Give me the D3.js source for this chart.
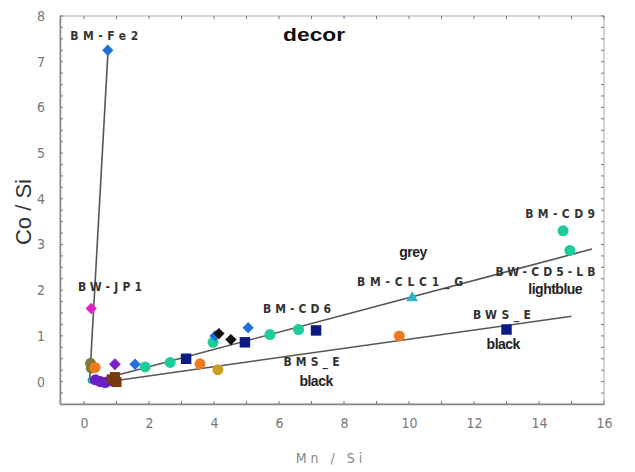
<!DOCTYPE html>
<html><head><meta charset="utf-8">
<script src="https://cdn.jsdelivr.net/npm/d3@7"></script>
<style>
body{margin:0;background:#fff;}
svg{display:block;}
</style></head>
<body><svg id="chart" width="635" height="472"></svg>
<script>
// ---- data ----
const xTicks = [0, 2, 4, 6, 8, 10, 12, 14, 16];
const yTicks = [0, 1, 2, 3, 4, 5, 6, 7, 8];

const blueDiamondX = [0.73, 1.57, 4.03, 5.05];
const blueDiamondY = [7.25, 0.38, 1.0, 1.18];
const magentaDiamondX = [0.22];
const magentaDiamondY = [1.6];
const blackDiamondX = [4.15, 4.52];
const blackDiamondY = [1.05, 0.92];
const purpleDiamondX = [0.95];
const purpleDiamondY = [0.38];
const tealCircleX = [1.88, 2.65, 3.97, 5.72, 6.6, 14.74, 14.95];
const tealCircleY = [0.32, 0.42, 0.86, 1.03, 1.14, 3.3, 2.87];
const navySquareX = [3.14, 4.95, 7.14, 13.0];
const navySquareY = [0.5, 0.86, 1.12, 1.14];
const orangeCircleX = [0.34, 3.57, 9.7];
const orangeCircleY = [0.31, 0.39, 1.0];
const goldCircleX = [4.12];
const goldCircleY = [0.26];
const oliveCircleX = [0.2, 0.22];
const oliveCircleY = [0.4, 0.3];
const purpleCircleX = [0.35, 0.5, 0.65, 0.8];
const purpleCircleY = [0.04, 0.0, -0.02, 0.02];
const brownSquareX = [0.85, 0.95, 1.0];
const brownSquareY = [0.05, 0.1, -0.01];
const tealTriangleX = [10.1];
const tealTriangleY = [1.83];
const smallTealX = [0.22];
const smallTealY = [0.03];

const steepLineX = [0.17, 0.74];
const steepLineY = [0.0, 7.26];
const upperFitX = [0.95, 15.63];
const upperFitY = [0.13, 2.9];
const lowerFitX = [0.95, 15.0];
const lowerFitY = [0.02, 1.43];

const labelTexts = ["BM-Fe2", "BW-JP1", "BM-CD6", "BMS_E", "BM-CLC1_G", "BW-CD5-LB", "BWS_E", "BM-CD9"];
const labelX = [0.62, 0.8, 6.55, 7.0, 10.03, 14.2, 12.86, 14.65];
const labelY = [7.59, 2.1, 1.62, 0.46, 2.21, 2.43, 1.49, 3.7];
const noteTexts = ["black", "grey", "lightblue", "black"];
const noteX = [7.14, 10.12, 14.5, 12.9];
const noteY = [0.02, 2.83, 2.02, 0.83];

// ---- layout ----
const svg = d3.select("#chart");
const pL = 60, pR = 604, pT = 16, pB = 404;
const x = d3.scaleLinear().domain([-0.74, 16]).range([pL, pR]);
const y = d3.scaleLinear().domain([-0.49, 8]).range([pB, pT]);

// frame
svg.append("rect").attr("x", pL).attr("y", pT).attr("width", pR-pL).attr("height", pB-pT)
  .attr("fill", "none").attr("stroke", "#aaa").attr("stroke-width", 1);

// axes
const axB = svg.append("g").attr("transform", `translate(0,${pB})`)
  .call(d3.axisBottom(x).tickValues(xTicks).tickSize(0).tickPadding(14).tickFormat(d3.format("d")));
const axL = svg.append("g").attr("transform", `translate(${pL},0)`)
  .call(d3.axisLeft(y).tickValues(yTicks).tickSize(0).tickPadding(15).tickFormat(d3.format("d")));
[axB, axL].forEach(a => {
  a.select(".domain").attr("stroke", "#888").attr("stroke-width", 1.5);
  a.selectAll("text").attr("fill", "#777").attr("font-family", "Liberation Sans Narrow, DejaVu Sans Condensed, Liberation Sans, sans-serif")
    .attr("font-size", 14);
});
// minor inner ticks
const minorX = d3.range(0, 16.01, 1);
svg.append("g").selectAll("line").data(minorX).join("line")
  .attr("x1", d => x(d)).attr("x2", d => x(d)).attr("y1", pB).attr("y2", pB - 3)
  .attr("stroke", "#777");
svg.append("g").selectAll("line").data(minorX).join("line")
  .attr("x1", d => x(d)).attr("x2", d => x(d)).attr("y1", pT).attr("y2", pT + 3)
  .attr("stroke", "#777");
const minorY = d3.range(-0.25, 8.01, 0.25);
svg.append("g").selectAll("line").data(minorY).join("line")
  .attr("x1", pL).attr("x2", pL + 3).attr("y1", d => y(d)).attr("y2", d => y(d))
  .attr("stroke", "#777");
svg.append("g").selectAll("line").data(minorY).join("line")
  .attr("x1", pR).attr("x2", pR - 3).attr("y1", d => y(d)).attr("y2", d => y(d))
  .attr("stroke", "#777");

// axis titles
svg.append("text").attr("transform", `translate(31,212) rotate(-90)`).attr("text-anchor", "middle")
  .attr("font-family", "Liberation Sans, Arial, sans-serif").attr("font-size", 22).attr("fill", "#333").text("Co / Si");
svg.append("text").attr("x", 331).attr("y", 463).attr("text-anchor", "middle")
  .attr("font-family", "Liberation Sans Narrow, DejaVu Sans Condensed, Liberation Sans, sans-serif")
  .attr("font-size", 14).attr("fill", "#888").attr("letter-spacing", 4).text("Mn / Si");
svg.append("text").attr("x", x(7.08) - 31).attr("y", 41)
  .attr("textLength", 62).attr("lengthAdjust", "spacingAndGlyphs")
  .attr("font-family", "Liberation Sans, Arial, sans-serif").attr("font-weight", "bold").attr("font-size", 19)
  .attr("fill", "#111").text("decor");

// lines
const line = d3.line().x(d => x(d[0])).y(d => y(d[1]));
[[steepLineX, steepLineY], [upperFitX, upperFitY], [lowerFitX, lowerFitY]].forEach(([xs, ys]) => {
  svg.append("path").attr("d", line(d3.zip(xs, ys))).attr("fill", "none").attr("stroke", "#555").attr("stroke-width", 1.6);
});

// markers
function draw(xs, ys, type, size, color, rot) {
  const sym = d3.symbol().type(type).size(size);
  svg.append("g").selectAll("path").data(d3.zip(xs, ys)).join("path")
    .attr("transform", d => `translate(${x(d[0])},${y(d[1])})` + (rot ? ` rotate(${rot})` : ""))
    .attr("d", sym).attr("fill", color);
}
draw(oliveCircleX, oliveCircleY, d3.symbolCircle, 95, "#7f7a3a");
draw(smallTealX, smallTealY, d3.symbolCircle, 40, "#1aa89a");
draw(orangeCircleX, orangeCircleY, d3.symbolCircle, 95, "#f07a20");
draw(goldCircleX, goldCircleY, d3.symbolCircle, 95, "#c9a11e");
draw(tealCircleX, tealCircleY, d3.symbolCircle, 95, "#1ecb9b");
draw(purpleCircleX, purpleCircleY, d3.symbolCircle, 95, "#6a1fc6");
draw(brownSquareX, brownSquareY, d3.symbolSquare, 100, "#7a3a10");
draw(navySquareX, navySquareY, d3.symbolSquare, 110, "#0d1a85");
draw(blueDiamondX, blueDiamondY, d3.symbolSquare, 64, "#2070d8", 45);
draw(magentaDiamondX, magentaDiamondY, d3.symbolSquare, 64, "#e020c8", 45);
draw(blackDiamondX, blackDiamondY, d3.symbolSquare, 64, "#111", 45);
draw(purpleDiamondX, purpleDiamondY, d3.symbolSquare, 70, "#7a20c8", 45);
draw(tealTriangleX, tealTriangleY, d3.symbolTriangle, 60, "#30b4c4");

// sample labels
const labelWidths = [68, 64, 68, 56, 106, 100, 58, 70];
svg.append("g").selectAll("text").data(labelTexts).join("text")
  .attr("x", (d, i) => x(labelX[i]) - labelWidths[i] / 2).attr("y", (d, i) => y(labelY[i]) + 5)
  .attr("textLength", (d, i) => labelWidths[i]).attr("lengthAdjust", "spacing")
  .attr("font-family", "Liberation Sans Narrow, DejaVu Sans Condensed, Liberation Sans, sans-serif")
  .attr("font-size", 12).attr("font-weight", "bold").attr("fill", "#333").text(d => d);
svg.append("g").selectAll("text").data(noteTexts).join("text")
  .attr("x", (d, i) => x(noteX[i])).attr("y", (d, i) => y(noteY[i]) + 5).attr("text-anchor", "middle")
  .attr("font-family", "Liberation Sans, Arial, sans-serif").attr("font-size", 14).attr("font-weight", "bold")
  .attr("letter-spacing", -0.5).attr("fill", "#222").text(d => d);
</script></body></html>
